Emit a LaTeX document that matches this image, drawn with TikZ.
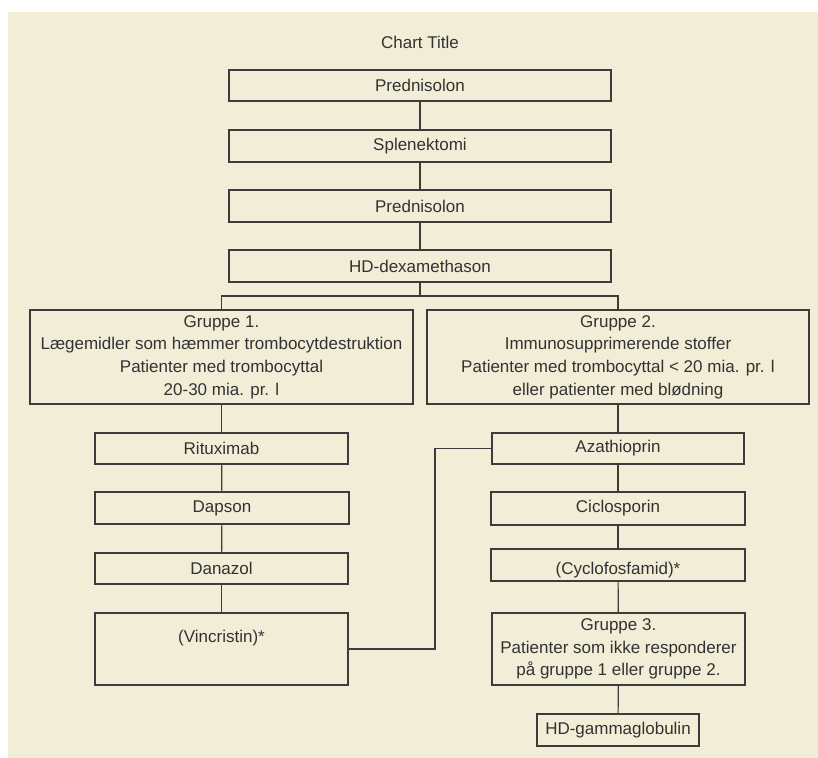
\documentclass[tikz,border=0pt]{standalone}
\usepackage{fontspec}
\setmainfont{Liberation Sans}
\definecolor{bgbeige}{RGB}{241,237,214}
\definecolor{inkgray}{RGB}{50,50,50}
\definecolor{linegray}{RGB}{60,60,60}
\begin{document}
\begin{tikzpicture}[x=1bp,y=-1bp,
  box/.style={draw=linegray, line width=1.2bp, rectangle, inner sep=0pt, align=center,
    text=inkgray, font=\fontsize{17bp}{22.7bp}\selectfont},
  conn/.style={draw=linegray, line width=1.2bp},
  ttl/.style={text=inkgray, font=\fontsize{17bp}{22.7bp}\selectfont, inner sep=0pt}]
\fill[white] (0,0) rectangle (818,758);
\fill[bgbeige] (8,12) rectangle (818,758);
\useasboundingbox (0,0) rectangle (818,758);

\node[ttl] (title) at (420,42) {Chart Title};

\node[box, minimum width=382bp, minimum height=31bp] (p1) at (420,85.5) {Prednisolon};
\node[box, minimum width=382bp, minimum height=32bp] (sp) at (420,146) {Splenektomi};
\node[box, minimum width=382bp, minimum height=32bp] (p2) at (420,206) {Prednisolon};
\node[box, minimum width=382bp, minimum height=32bp] (hd) at (420,266) {HD-dexamethason};

\node[box, minimum width=383bp, minimum height=94bp] (g1) at (221.5,357)
  {Gruppe 1.\\Lægemidler som hæmmer trombocytdestruktion\\Patienter med trombocyttal\\20-30 mia. pr. l};
\node[box, minimum width=382bp, minimum height=94bp] (g2) at (618,357)
  {Gruppe 2.\\Immunosupprimerende stoffer\\Patienter med trombocyttal < 20 mia. pr. l\\eller patienter med blødning};

\node[box, minimum width=253bp, minimum height=31bp] (ri) at (221.5,448.5) {Rituximab};
\node[box, minimum width=254bp, minimum height=32bp] (da) at (222,508) {Dapson};
\node[box, minimum width=253bp, minimum height=31bp] (dz) at (221.5,568.5) {Danazol};
\node[box, minimum width=253bp, minimum height=72bp] (vi) at (221.5,649) {\raisebox{1bp}[\height][\depth]{(Vincristin)*}\\\mbox{}};

\node[box, minimum width=252bp, minimum height=31bp] (az) at (618,448.5) {Azathioprin};
\node[box, minimum width=254bp, minimum height=33bp] (ci) at (618,508.5) {Ciclosporin};
\node[box, minimum width=254bp, minimum height=32bp] (cy) at (618,565) {\raisebox{-5bp}[\height][\depth]{(Cyclofosfamid)*}};
\node[box, minimum width=253bp, minimum height=72bp] (g3) at (618.5,649)
  {Gruppe 3.\\Patienter som ikke responderer\\på gruppe 1 eller gruppe 2.};
\node[box, minimum width=162bp, minimum height=32bp] (hg) at (618,730) {HD-gammaglobulin};

\coordinate (br) at (420,296);
\coordinate (vk) at (435,649);

\draw[conn] (p1) -- (sp);
\draw[conn] (sp) -- (p2);
\draw[conn] (p2) -- (hd);
\draw[conn] (hd) -- (br);
\draw[conn] (g1.north) |- (br) -| (g2.north);
\draw[conn] (g1) -- (ri);
\draw[conn] (ri) -- (da);
\draw[conn] (da) -- (dz);
\draw[conn] (dz) -- (vi);
\draw[conn] (g2) -- (az);
\draw[conn] (az) -- (ci);
\draw[conn] (ci) -- (cy);
\draw[conn] (cy) -- (g3);
\draw[conn] (g3) -- (hg);
\draw[conn] (vi.east) -- (vk) |- (az.west);
\end{tikzpicture}
\end{document}
